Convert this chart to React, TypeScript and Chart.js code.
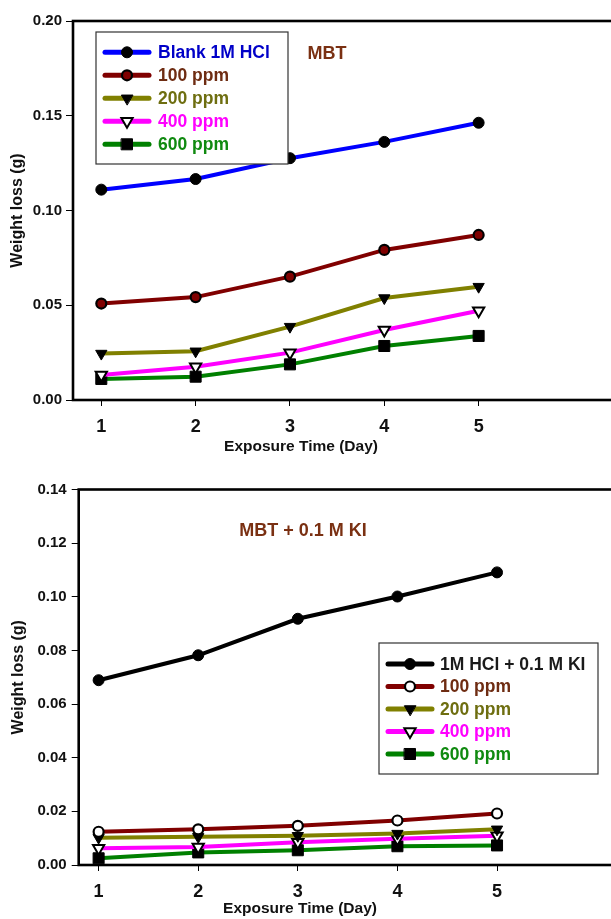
import React, { useEffect, useRef } from "react";
import { Chart, registerables } from "chart.js";

Chart.register(...registerables);

// ---------- data ----------
const days = [1, 2, 3, 4, 5];

// Top panel: MBT
const mbtLabels = ["Blank 1M HCl", "100 ppm", "200 ppm", "400 ppm", "600 ppm"];
const blankHCl = [0.111, 0.1166, 0.1276, 0.1362, 0.1463];
const mbt100 = [0.0509, 0.0543, 0.0651, 0.0792, 0.0871];
const mbt200 = [0.0245, 0.0257, 0.0387, 0.0538, 0.0598];
const mbt400 = [0.0132, 0.0176, 0.025, 0.0369, 0.0471];
const mbt600 = [0.0111, 0.0123, 0.0188, 0.0285, 0.0338];
const mbtYTicks = [0, 0.05, 0.1, 0.15, 0.2];

// Bottom panel: MBT + 0.1 M KI
const kiLabels = ["1M HCl + 0.1 M KI", "100 ppm", "200 ppm", "400 ppm", "600 ppm"];
const hclKI = [0.0689, 0.0782, 0.0918, 0.1001, 0.1091];
const ki100 = [0.0124, 0.0133, 0.0146, 0.0166, 0.0192];
const ki200 = [0.0102, 0.0105, 0.0109, 0.0117, 0.0133];
const ki400 = [0.0062, 0.0067, 0.0085, 0.0098, 0.0109];
const ki600 = [0.0025, 0.0047, 0.0055, 0.007, 0.0073];
const kiYTicks = [0, 0.02, 0.04, 0.06, 0.08, 0.1, 0.12, 0.14];

const xTitle = "Exposure Time (Day)";
const yTitle = "Weight loss (g)";

// ---------- styles ----------
const FONT = "'Liberation Sans', Arial, sans-serif";
const lineColors = ["#0000ff", "#800000", "#808000", "#ff00ff", "#008000"];
const lineColorsKI = ["#000000", "#800000", "#808000", "#ff00ff", "#008000"];
const textColors = ["#0000c8", "#6e2c12", "#6e6e10", "#ff00ff", "#108a10"];
const textColorsKI = ["#1a1a1a", "#6e2c12", "#6e6e10", "#ff00ff", "#108a10"];

type Marker = { style: "circle" | "triangleDown" | "rect"; r: number; fill: string; bw: number };
const markersTop: Marker[] = [
  { style: "circle", r: 5.5, fill: "#000", bw: 1 },
  { style: "circle", r: 5, fill: "#800000", bw: 2.2 },
  { style: "triangleDown", r: 6.5, fill: "#000", bw: 1 },
  { style: "triangleDown", r: 6.5, fill: "#fff", bw: 2 },
  { style: "rect", r: 7.8, fill: "#000", bw: 1 },
];
const markersKI: Marker[] = [
  { style: "circle", r: 5.5, fill: "#000", bw: 1 },
  { style: "circle", r: 5, fill: "#fff", bw: 2.2 },
  { style: "triangleDown", r: 6.5, fill: "#000", bw: 1 },
  { style: "triangleDown", r: 6.5, fill: "#fff", bw: 2 },
  { style: "rect", r: 7.8, fill: "#000", bw: 1 },
];

function drawMarker(ctx: CanvasRenderingContext2D, m: Marker, x: number, y: number) {
  ctx.save();
  ctx.beginPath();
  const r = m.r;
  if (m.style === "circle") {
    ctx.arc(x, y, r, 0, Math.PI * 2);
  } else if (m.style === "triangleDown") {
    const w = r * Math.sin(Math.PI / 3);
    ctx.moveTo(x, y + r);
    ctx.lineTo(x - w, y - r / 2);
    ctx.lineTo(x + w, y - r / 2);
    ctx.closePath();
  } else {
    const s = r * Math.SQRT1_2;
    ctx.rect(x - s, y - s, 2 * s, 2 * s);
  }
  ctx.fillStyle = m.fill;
  ctx.fill();
  ctx.lineWidth = m.bw;
  ctx.strokeStyle = "#000";
  ctx.stroke();
  ctx.restore();
}

type PanelCfg = {
  width: number;
  height: number;
  top: number;
  labels: string[];
  series: number[][];
  colors: string[];
  txtColors: string[];
  markers: Marker[];
  yTicks: number[];
  yMax: number;
  xMin: number;
  xMax: number;
  padTop: number;
  padRight: number;
  yWidth: number;
  xHeight: number;
  yTickPad: number;
  title: string;
  titleX: number;
  titleY: number;
  xTitleX: number;
  xTitleY: number;
  yTitleX: number;
  legend: { x: number; y: number; w: number; h: number; row0: number; step: number; lineX0: number; lineX1: number; textX: number };
};

const topCfg: PanelCfg = {
  width: 650,
  height: 460,
  top: 0,
  labels: mbtLabels,
  series: [blankHCl, mbt100, mbt200, mbt400, mbt600],
  colors: lineColors,
  txtColors: textColors,
  markers: markersTop,
  yTicks: mbtYTicks,
  yMax: 0.2,
  xMin: 0.7,
  xMax: 6.7,
  padTop: 21,
  padRight: 11,
  yWidth: 73,
  xHeight: 60,
  yTickPad: 4,
  title: "MBT",
  titleX: 327,
  titleY: 54,
  xTitleX: 301,
  xTitleY: 447,
  yTitleX: 18,
  legend: { x: 96, y: 32, w: 192, h: 132, row0: 52.3, step: 23, lineX0: 105, lineX1: 149, textX: 158 },
};

const botCfg: PanelCfg = {
  width: 640,
  height: 459,
  top: 460,
  labels: kiLabels,
  series: [hclKI, ki100, ki200, ki400, ki600],
  colors: lineColorsKI,
  txtColors: textColorsKI,
  markers: markersKI,
  yTicks: kiYTicks,
  yMax: 0.14,
  xMin: 0.8,
  xMax: 6.3,
  padTop: 29.5,
  padRight: 13.5,
  yWidth: 78.7,
  xHeight: 54,
  yTickPad: 5,
  title: "MBT + 0.1 M KI",
  titleX: 303,
  titleY: 70.7,
  xTitleX: 300,
  xTitleY: 448.5,
  yTitleX: 19,
  legend: { x: 379, y: 183, w: 219, h: 131, row0: 204, step: 22.5, lineX0: 388, lineX1: 432, textX: 440 },
};

function Panel({ cfg }: { cfg: PanelCfg }) {
  const ref = useRef<HTMLCanvasElement | null>(null);

  useEffect(() => {
    if (!ref.current) return;
    const datasets = cfg.series.map((vals, i) => {
      const m = cfg.markers[i];
      return {
        label: cfg.labels[i],
        data: days.map((d, j) => ({ x: d, y: vals[j] })),
        borderColor: cfg.colors[i],
        backgroundColor: cfg.colors[i],
        borderWidth: 4,
        tension: 0,
        pointStyle: m.style === "triangleDown" ? "triangle" : m.style,
        pointRotation: m.style === "triangleDown" ? 180 : 0,
        pointRadius: m.r,
        pointHoverRadius: m.r,
        pointBackgroundColor: m.fill,
        pointBorderColor: "#000",
        pointBorderWidth: m.bw,
      };
    });

    const framePlugin = {
      id: "frame",
      beforeDatasetsDraw(chart: any) {
        const { ctx, chartArea: a } = chart;
        ctx.save();
        ctx.strokeStyle = "#000";
        ctx.lineWidth = 2.6;
        ctx.strokeRect(a.left, a.top, a.right - a.left, a.bottom - a.top);
        ctx.restore();
      },
      afterDraw(chart: any) {
        const { ctx, chartArea: a } = chart;
        ctx.save();
        // panel title
        ctx.font = `bold 18px ${FONT}`;
        ctx.fillStyle = "#7a3012";
        ctx.textAlign = "center";
        ctx.textBaseline = "middle";
        ctx.fillText(cfg.title, cfg.titleX, cfg.titleY);
        // x title
        ctx.font = `bold 15.5px ${FONT}`;
        ctx.fillStyle = "#111";
        ctx.fillText(xTitle, cfg.xTitleX, cfg.xTitleY);
        // y title
        ctx.save();
        ctx.translate(cfg.yTitleX, (a.top + a.bottom) / 2);
        ctx.rotate(-Math.PI / 2);
        ctx.font = `bold 16px ${FONT}`;
        ctx.fillText(yTitle, 0, 0);
        ctx.restore();
        // legend
        const L = cfg.legend;
        ctx.fillStyle = "#fff";
        ctx.fillRect(L.x, L.y, L.w, L.h);
        ctx.strokeStyle = "#333";
        ctx.lineWidth = 1.2;
        ctx.strokeRect(L.x, L.y, L.w, L.h);
        chart.data.datasets.forEach((ds: any, i: number) => {
          const y = L.row0 + i * L.step;
          ctx.beginPath();
          ctx.lineCap = "round";
          ctx.strokeStyle = ds.borderColor;
          ctx.lineWidth = 5;
          ctx.moveTo(L.lineX0, y);
          ctx.lineTo(L.lineX1, y);
          ctx.stroke();
          drawMarker(ctx, cfg.markers[i], (L.lineX0 + L.lineX1) / 2, y);
          ctx.font = `bold 17.5px ${FONT}`;
          ctx.fillStyle = cfg.txtColors[i];
          ctx.textAlign = "left";
          ctx.textBaseline = "middle";
          ctx.fillText(ds.label, L.textX, y + 1);
        });
        ctx.restore();
      },
    };

    const chart = new Chart(ref.current, {
      type: "line",
      data: { datasets: datasets as any },
      plugins: [framePlugin],
      options: {
        animation: false,
        responsive: false,
        devicePixelRatio: 1,
        layout: {
          autoPadding: false,
          padding: { left: 0, top: cfg.padTop, right: cfg.padRight, bottom: 0 },
        },
        plugins: {
          legend: { display: false },
          tooltip: { enabled: false },
          title: { display: false },
        },
        scales: {
          x: {
            type: "linear",
            min: cfg.xMin,
            max: cfg.xMax,
            afterFit(scale: any) {
              scale.height = cfg.xHeight;
            },
            afterBuildTicks(scale: any) {
              scale.ticks = days.map((v) => ({ value: v }));
            },
            border: { display: false },
            grid: {
              drawOnChartArea: false,
              drawTicks: true,
              tickLength: 6,
              color: "#000",
              lineWidth: 1,
            },
            ticks: {
              color: "#111",
              font: { family: FONT, size: 18, weight: "bold" },
              padding: 10,
              maxRotation: 0,
              autoSkip: false,
              callback: (v: any) => String(v),
            },
          },
          y: {
            type: "linear",
            min: 0,
            max: cfg.yMax,
            afterFit(scale: any) {
              scale.width = cfg.yWidth;
            },
            afterBuildTicks(scale: any) {
              scale.ticks = cfg.yTicks.map((v) => ({ value: v }));
            },
            border: { display: false },
            grid: {
              drawOnChartArea: false,
              drawTicks: true,
              tickLength: 7,
              color: "#000",
              lineWidth: 1,
            },
            ticks: {
              color: "#111",
              font: { family: FONT, size: 15, weight: "bold" },
              padding: cfg.yTickPad,
              autoSkip: false,
              callback: (v: any) => Number(v).toFixed(2),
            },
          },
        },
      } as any,
    });
    return () => chart.destroy();
  }, [cfg]);

  return (
    <canvas
      ref={ref}
      width={cfg.width}
      height={cfg.height}
      style={{ position: "absolute", left: 0, top: cfg.top, width: cfg.width, height: cfg.height }}
    />
  );
}

export default function App() {
  return (
    <div
      style={{
        position: "absolute",
        left: 0,
        top: 0,
        width: 611,
        height: 919,
        overflow: "hidden",
        background: "#fff",
      }}
    >
      <Panel cfg={topCfg} />
      <Panel cfg={botCfg} />
    </div>
  );
}
